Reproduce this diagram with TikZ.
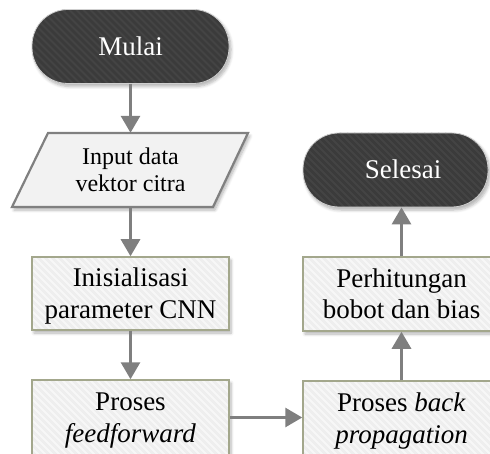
\documentclass[tikz,border=0pt]{standalone}
\usepackage{fontspec}
\setmainfont{Liberation Serif}
\usetikzlibrary{arrows.meta,shadows.blur,calc}

\definecolor{termfill}{HTML}{3B3B3B}
\definecolor{termstripe}{HTML}{444444}
\definecolor{termedge}{HTML}{CFCFCF}
\definecolor{boxfill}{HTML}{EEEEEE}
\definecolor{boxstripe}{HTML}{F7F7F7}
\definecolor{boxedge}{HTML}{A3A78C}
\definecolor{paraledge}{HTML}{808080}
\definecolor{paralfill}{HTML}{F2F2F2}
\definecolor{flowgray}{HTML}{7F7F7F}

\tikzset{
  stripes/.style={path picture={
    \foreach \i in {-110,-103,...,210}
      \draw[#1, line width=2pt]
        ([xshift=\i pt]path picture bounding box.north west) -- ++(110,110);
  }},
  softshadow/.style={blur shadow={shadow xshift=2pt, shadow yshift=-3pt,
    shadow opacity=30, shadow blur steps=6, shadow blur radius=3pt}},
  % text boxes sized so that the capitals sit in the middle of each shape
  oneline/.style={text height=18pt, text depth=0pt},
  twolines/.style={text height=49.5pt, text depth=0pt},
  terminal/.style={draw=termedge, line width=0.8pt, fill=termfill,
    rounded corners=36pt, minimum height=74pt, inner sep=0pt,
    text=white, font=\fontsize{27}{31}\selectfont, oneline,
    softshadow, stripes=termstripe},
  processbox/.style={draw=boxedge, line width=1.5pt, fill=boxfill,
    minimum width=197pt, inner sep=0pt, align=center, twolines,
    font=\fontsize{27}{31.5}\selectfont, softshadow, stripes=boxstripe},
  paral/.style={draw=paraledge, line width=2.2pt, fill=paralfill, softshadow},
  flow/.style={draw=flowgray, line width=3pt,
    -{Triangle[length=17pt,width=19pt]}}
}

\begin{document}
\begin{tikzpicture}[x=1pt,y=-1pt]
  \useasboundingbox (0,0) rectangle (490,454);
  \clip (0,0) rectangle (490,454);

  % left column
  \node[terminal, minimum width=197pt] (mulai) at (130.5,46.5) {Mulai};

  \path[paral] (48,133) -- (248,133) -- (213,207) -- (12,207) -- cycle;
  \node[font=\fontsize{24}{27}\selectfont, align=center, inner sep=0pt,
        text height=43pt, text depth=0pt, minimum height=74pt]
    (input) at (130.5,170) {Input data\\vektor citra};

  \node[processbox, minimum height=73pt] (init) at (130.5,293.5)
    {Inisialisasi\\parameter CNN};
  \node[processbox, minimum height=75pt] (ff) at (130.5,417.5)
    {Proses\\\textit{feedforward}};

  % right column
  \node[processbox, minimum height=75pt] (bp) at (401.5,418.5)
    {Proses \textit{back}\\\textit{propagation}};
  \node[processbox, minimum height=74pt] (hitung) at (401.5,294)
    {Perhitungan\\bobot dan bias};
  \node[terminal, minimum width=185pt] (selesai) at (395.5,170)
    {\hspace*{15pt}Selesai};

  % connectors
  \draw[flow] (mulai) -- (input);
  \draw[flow] (input) -- (init);
  \draw[flow] (init) -- (ff);
  \draw[flow] (ff.east) -- (ff.east -| bp.west);
  \draw[flow] (bp) -- (hitung);
  \draw[flow] (hitung.north) -- (hitung.north |- selesai.south);
\end{tikzpicture}
\end{document}
